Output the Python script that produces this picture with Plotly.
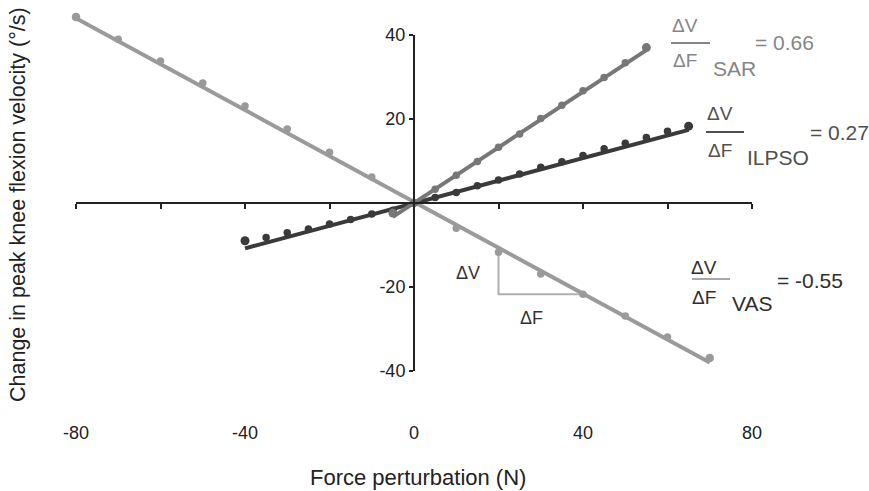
import plotly.graph_objects as go

# ---------------- data ----------------
vas_x = [-80, -70, -60, -50, -40, -30, -20, -10, 0, 10, 20, 30, 40, 50, 60, 70]
vas_y = [44.3, 39.0, 33.8, 28.6, 23.1, 17.6, 12.1, 6.2, 0.0, -6.0, -11.7, -16.9, -21.7, -26.9, -31.9, -36.9]
vas_fit_x = [-80, 70]
vas_fit_y = [44.0, -38.0]

sar_x = [-5, 0, 5, 10, 15, 20, 25, 30, 35, 40, 45, 50, 55]
sar_y = [-2.4, 0.0, 3.3, 6.6, 9.9, 13.3, 16.4, 20.1, 23.3, 26.7, 29.9, 33.4, 37.0]
sar_fit_x = [-5, 55]
sar_fit_y = [-3.3, 36.4]

ilpso_x = [-40, -35, -30, -25, -20, -15, -10, -5, 0, 5, 10, 15, 20, 25, 30, 35, 40, 45, 50, 55, 60, 65]
ilpso_y = [-9.0, -8.2, -7.1, -6.2, -5.0, -3.9, -2.6, -1.7, 0.0, 1.3, 2.5, 4.1, 5.5, 6.9, 8.5, 9.8,
           11.3, 12.9, 14.2, 15.6, 17.1, 18.3]
ilpso_fit_x = [-40, 65]
ilpso_fit_y = [-10.8, 17.4]

# slope triangle (ΔV / ΔF illustration)
tri_x = [20, 20, 40]
tri_y = [-11.7, -21.7, -21.7]

x_tick_labels = [-80, -40, 0, 40, 80]
x_axis_ticks = [-80, -60, -40, -20, 0, 20, 40, 60, 80]
y_tick_labels = [-40, -20, 20, 40]

slope_labels = [("SAR", "0.66"), ("ILPSO", "0.27"), ("VAS", "-0.55")]

# ---------------- layout geometry ----------------
W, H = 869, 491
ML, MR, MT, MB = 76, 117, 10, 71
X_RANGE = [-80, 80]
PX_PER_Y = 4.2
Y_ZERO_PX = 203
Y_RANGE = [(Y_ZERO_PX - (H - MB)) / PX_PER_Y, (Y_ZERO_PX - MT) / PX_PER_Y]
Y_AXIS_SPAN = [-40, 40]

def fy(v):
    return (v - Y_RANGE[0]) / (Y_RANGE[1] - Y_RANGE[0])

def fx(v):
    return (v - X_RANGE[0]) / (X_RANGE[1] - X_RANGE[0])

def ppx(px):
    return (px - ML) / (W - ML - MR)

def ppy(py):
    return (H - MB - py) / (H - MT - MB)

FONT = "Liberation Sans, Arial, sans-serif"
C_VAS = "#9a9a9a"
C_SAR = "#777777"
C_ILP = "#3a3a3a"
C_AX = "#222222"

fig = go.Figure()

# dummy traces to instantiate the decorative axes
fig.add_trace(go.Scatter(x=[], y=[], xaxis="x2", yaxis="y", showlegend=False, hoverinfo="skip"))
fig.add_trace(go.Scatter(x=[], y=[], xaxis="x", yaxis="y2", showlegend=False, hoverinfo="skip"))

# triangle
fig.add_trace(go.Scatter(x=tri_x, y=tri_y, mode="lines", line=dict(color="#b0b0b0", width=2),
                         showlegend=False, hoverinfo="skip"))

def add_series(xs, ys, fx_, fy_, color, msize, end_size):
    sizes = [msize] * len(xs)
    sizes[0] = end_size
    sizes[-1] = end_size
    fig.add_trace(go.Scatter(x=fx_, y=fy_, mode="lines", line=dict(color=color, width=4),
                             showlegend=False, hoverinfo="skip"))
    fig.add_trace(go.Scatter(x=xs, y=ys, mode="markers",
                             marker=dict(color=color, size=sizes, opacity=1,
                                         line=dict(width=0, color=color)),
                             showlegend=False, cliponaxis=False))

add_series(vas_x, vas_y, vas_fit_x, vas_fit_y, C_VAS, 7.5, 8.5)
add_series(ilpso_x, ilpso_y, ilpso_fit_x, ilpso_fit_y, C_ILP, 7.5, 9)
add_series(sar_x, sar_y, sar_fit_x, sar_fit_y, C_SAR, 7.5, 9)

annotations = []
shapes = []

# triangle labels
annotations.append(dict(x=12.8, y=-16.7, xref="x", yref="y", text="ΔV", showarrow=False,
                        xanchor="center", yanchor="middle",
                        font=dict(size=18, color="#333333", family=FONT)))
annotations.append(dict(x=27.9, y=-27.4, xref="x", yref="y", text="ΔF", showarrow=False,
                        xanchor="center", yanchor="middle",
                        font=dict(size=18, color="#333333", family=FONT)))

frac_geo = [
    dict(cx=685, dv_y=25, bar_y=43, bx0=671, bx1=710, df_y=60, sub_x=711, sub_y=68,
         eq_x=753, eq_y=43, tcol="#868686", bcol="#868686", ecol="#868686"),
    dict(cx=720, dv_y=113, bar_y=132, bx0=706, bx1=744, df_y=150, sub_x=745, sub_y=157,
         eq_x=808, eq_y=132, tcol="#505050", bcol="#505050", ecol="#505050"),
    dict(cx=704, dv_y=267, bar_y=279, bx0=692, bx1=730, df_y=297, sub_x=730, sub_y=303,
         eq_x=775, eq_y=281, tcol="#2e2e2e", bcol="#a8a8a8", ecol="#2e2e2e"),
]
for (name, val), g in zip(slope_labels, frac_geo):
    dfont = dict(size=19, color=g["tcol"], family=FONT)
    sfont = dict(size=21, color=g["tcol"], family=FONT)
    common = dict(xref="paper", yref="paper", showarrow=False, yanchor="middle")
    annotations.append(dict(x=ppx(g["cx"]), y=ppy(g["dv_y"]), text="ΔV", xanchor="center",
                            font=dfont, **common))
    annotations.append(dict(x=ppx(g["cx"]), y=ppy(g["df_y"]), text="ΔF", xanchor="center",
                            font=dfont, **common))
    annotations.append(dict(x=ppx(g["sub_x"]), y=ppy(g["sub_y"]), text=name, xanchor="left",
                            font=sfont, **common))
    annotations.append(dict(x=ppx(g["eq_x"]), y=ppy(g["eq_y"]), text="= " + val, xanchor="left",
                            font=dict(size=21, color=g["ecol"], family=FONT), **common))
    shapes.append(dict(type="line", xref="paper", yref="paper", x0=ppx(g["bx0"]), x1=ppx(g["bx1"]),
                       y0=ppy(g["bar_y"]), y1=ppy(g["bar_y"]), line=dict(color=g["bcol"], width=2)))

# axis titles
annotations.append(dict(x=ppx(18), y=ppy(205), xref="paper", yref="paper", textangle=-90,
                        xanchor="center", yanchor="middle",
                        text="Change in peak knee flexion velocity (°/s)", showarrow=False,
                        font=dict(size=21.5, color="#222222", family=FONT)))
annotations.append(dict(x=ppx(418), y=ppy(478), xref="paper", yref="paper",
                        xanchor="center", yanchor="middle",
                        text="Force perturbation (N)", showarrow=False,
                        font=dict(size=22, color="#222222", family=FONT)))

fig.update_layout(
    width=W, height=H,
    margin=dict(l=ML, r=MR, t=MT, b=MB, autoexpand=False),
    paper_bgcolor="white", plot_bgcolor="rgba(0,0,0,0)",
    showlegend=False,
    font=dict(family=FONT, size=18, color="#222222"),
    xaxis=dict(domain=[0, 1], range=X_RANGE, tickvals=x_tick_labels,
               ticktext=[str(v) for v in x_tick_labels], ticks="", showline=False,
               zeroline=False, showgrid=False, tickfont=dict(size=18)),
    yaxis=dict(domain=[0, 1], range=Y_RANGE, visible=False, showgrid=False, zeroline=False),
    xaxis2=dict(overlaying="x", anchor="free", position=fy(0), range=X_RANGE, tickvals=x_axis_ticks,
                ticks="outside", ticklen=5, tickwidth=2, tickcolor=C_AX, showticklabels=False,
                showline=True, linecolor=C_AX, linewidth=2, showgrid=False, zeroline=False),
    yaxis2=dict(domain=[fy(Y_AXIS_SPAN[0]), fy(Y_AXIS_SPAN[1])], anchor="free", position=fx(0),
                range=Y_AXIS_SPAN, tickvals=y_tick_labels, ticktext=[str(v) for v in y_tick_labels],
                ticks="outside", ticklen=4, tickwidth=2,
                tickcolor=C_AX, showline=True, linecolor=C_AX, linewidth=2, showgrid=False,
                zeroline=False, tickfont=dict(size=18)),
    annotations=annotations,
    shapes=shapes,
)

fig.write_html("out.html")
